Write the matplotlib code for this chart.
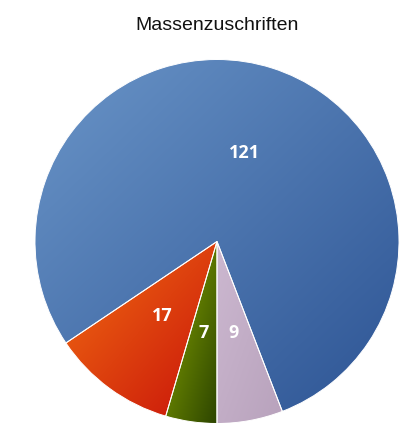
import numpy as np
import matplotlib
matplotlib.use("Agg")
import matplotlib.pyplot as plt
from matplotlib.colors import to_rgb

title = "Massenzuschriften"
values = [121, 17, 7, 9]
# light (top-left) and dark (bottom-right) end of each slice gradient
light = ["#6a95c8", "#f26e12", "#8aa800", "#ccb8d0"]
dark = ["#2d5494", "#c8120a", "#2c4400", "#b8a2bc"]

total = sum(values)
# last slice ends at straight down, slices drawn counter-clockwise
start = 270 + 360 * values[-1] / total

W, H = 410, 423
cx, cy, R = 217, 241.5, 182

fig = plt.figure(figsize=(W / 100, H / 100), dpi=100)
ax = fig.add_axes([0, 0, 1, 1])
ax.axis("off")

wedges, texts, autotexts = ax.pie(
    values, startangle=start, counterclock=True,
    autopct=lambda p: f"{p * total / 100:.0f}",
    pctdistance=0.51, colors=light,
    wedgeprops=dict(edgecolor="white", linewidth=0.7),
    textprops=dict(color="white", fontsize=13, fontweight="bold",
                   family=["Open Sans", "DejaVu Sans"]))

for w, c1, c2 in zip(wedges, light, dark):
    v = w.get_path().vertices
    x0, x1 = v[:, 0].min(), v[:, 0].max()
    y0, y1 = v[:, 1].min(), v[:, 1].max()
    gx, gy = np.meshgrid(np.linspace(0, 1, 200), np.linspace(0, 1, 200))
    g = (gx + gy) / 2  # row 0 is top (origin upper)
    a, b = np.array(to_rgb(c1)), np.array(to_rgb(c2))
    img = a[None, None, :] * (1 - g[..., None]) + b[None, None, :] * g[..., None]
    im = ax.imshow(img, extent=(x0, x1, y0, y1), origin="upper",
                   interpolation="bilinear", zorder=2, aspect="auto")
    im.set_clip_path(w)
    w.set_facecolor("none")
    w.set_zorder(3)

ax.set_xlim(-cx / R, (W - cx) / R)
ax.set_ylim((cy - H) / R, cy / R)
for t in autotexts:
    t.set_zorder(4)

fig.text(cx / W, 1 - 25 / H, title, ha="center", va="center", fontsize=14,
         family=["Liberation Sans", "DejaVu Sans"], color="#111111")

fig.savefig("out.png", dpi=100)
